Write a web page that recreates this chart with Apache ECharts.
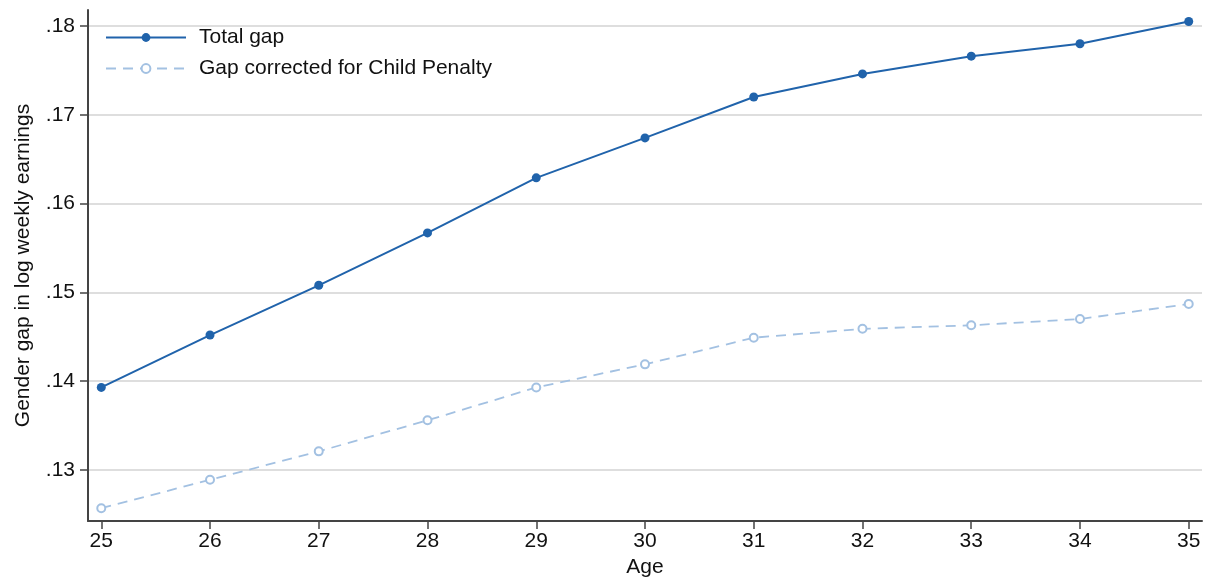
<!DOCTYPE html>
<html><head><meta charset="utf-8">
<script src="https://cdn.jsdelivr.net/npm/echarts@6/dist/echarts.min.js"></script>
<style>html,body{margin:0;padding:0;background:#fff}#c{width:1208px;height:580px}</style>
</head><body><div id="c"></div>
<script>
const ages = [25,26,27,28,29,30,31,32,33,34,35];
const totalGap = [0.1393,0.1452,0.1508,0.1567,0.1629,0.1674,0.1720,0.1746,0.1766,0.1780,0.1805];
const correctedGap = [0.1257,0.1289,0.1321,0.1356,0.1393,0.1419,0.1449,0.1459,0.1463,0.1470,0.1487];
const yTicks = [0.13,0.14,0.15,0.16,0.17,0.18];
const xTicks = [25,26,27,28,29,30,31,32,33,34,35];
const seriesNames = ['Total gap','Gap corrected for Child Penalty'];

const font = 'Liberation Sans, Arial, sans-serif';
const chart = echarts.init(document.getElementById('c'), null, {renderer:'canvas'});
chart.setOption({
  backgroundColor:'#fff',
  animation:false,
  grid:{left:88,right:6,top:10,bottom:59,containLabel:false,outerBoundsMode:'none'},
  legend:{
    left:100, top:22, orient:'vertical', itemGap:10,
    itemWidth:80, itemHeight:11,
    textStyle:{fontFamily:font,fontSize:21,color:'#111',padding:[0,0,0,8]},
    data:seriesNames
  },
  xAxis:{
    type:'value', min:24.878, max:35.122,
    name:'Age', nameLocation:'middle', nameGap:35,
    nameTextStyle:{fontFamily:font,fontSize:21,color:'#111'},
    axisLine:{show:true,onZero:false,lineStyle:{color:'#444',width:2}},
    axisTick:{show:true,length:8,customValues:xTicks,lineStyle:{color:'#444',width:1.5}},
    axisLabel:{customValues:xTicks,fontFamily:font,fontSize:21,color:'#111',margin:10,formatter:v=>String(v)},
    splitLine:{show:false}
  },
  yAxis:{
    type:'value', min:0.12426, max:0.1818,
    name:'Gender gap in log weekly earnings', nameLocation:'middle', nameGap:54,
    nameTextStyle:{fontFamily:font,fontSize:21,color:'#111'},
    axisLine:{show:true,onZero:false,lineStyle:{color:'#444',width:2}},
    axisTick:{show:true,length:8,customValues:yTicks,lineStyle:{color:'#444',width:1.5}},
    axisLabel:{customValues:yTicks,fontFamily:font,fontSize:21,color:'#111',margin:13,
      formatter:v=>v.toFixed(2).replace(/^0/,'')},
    splitLine:{show:true,lineStyle:{color:'#dedede',width:2}}
  },
  series:[
    {name:seriesNames[0],type:'line',data:ages.map((a,i)=>[a,totalGap[i]]),
     symbol:'circle',symbolSize:9,showSymbol:true,
     lineStyle:{color:'#2063ab',width:2},itemStyle:{color:'#2063ab'}},
    {name:seriesNames[1],type:'line',data:ages.map((a,i)=>[a,correctedGap[i]]),
     symbol:'emptyCircle',symbolSize:8,showSymbol:true,
     lineStyle:{color:'#a3c1e2',width:1.8,type:[10,7]},
     itemStyle:{color:'#a3c1e2',borderColor:'#a3c1e2',borderWidth:1.6}}
  ]
});
</script></body></html>
